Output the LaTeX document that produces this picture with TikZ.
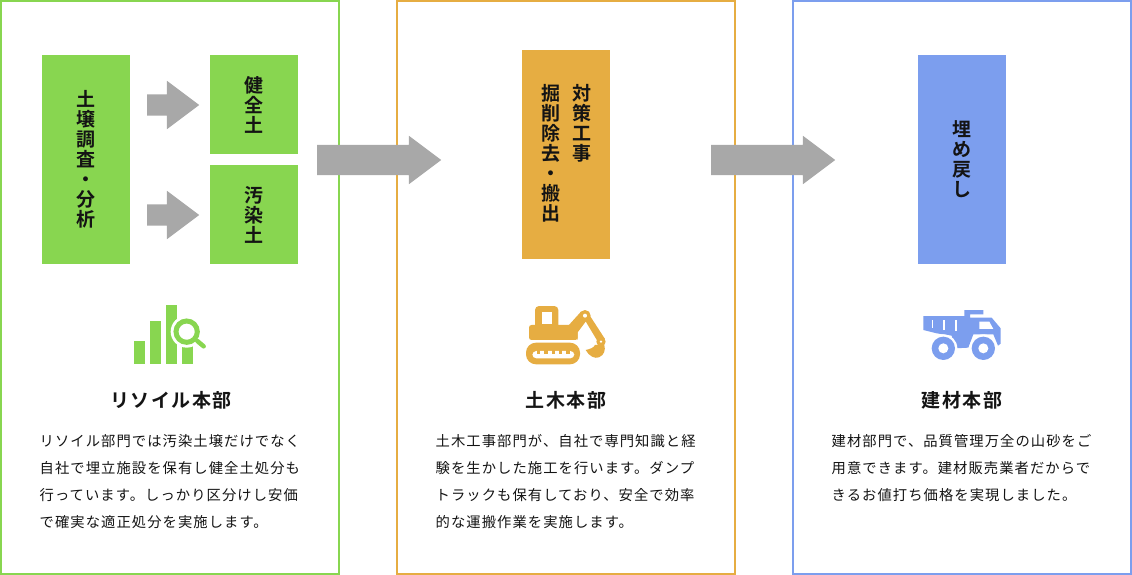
\documentclass[tikz,border=0pt]{standalone}
\usepackage{fontspec}
\usetikzlibrary{shapes.arrows}
\newfontfamily\bodyjp[LetterSpace=7.5]{Noto Sans CJK JP}
\newfontfamily\titlejp[LetterSpace=7.5]{Noto Sans CJK JP Bold}
\newfontfamily\stackjp{Noto Sans CJK JP Bold}
\definecolor{cgreen}{HTML}{88D650}
\definecolor{corange}{HTML}{E6AD42}
\definecolor{cblue}{HTML}{7C9EEE}
\definecolor{cgrey}{HTML}{A8A8A8}
\definecolor{ctext}{HTML}{141414}
\tikzset{
  panel/.style={draw=#1,line width=2pt,fill=white,inner sep=0pt,minimum width=338pt,minimum height=573pt},
  stacktext/.style={align=center,text=ctext,font={\fontsize{19}{20}\stackjp\selectfont}},
  block/.style={fill=#1,inner sep=0pt,minimum width=88pt,stacktext},
  bigarrow/.style={single arrow,fill=cgrey,inner xsep=0pt,inner ysep=15pt,minimum width=48pt,minimum height=124pt,
     single arrow head extend=9pt,single arrow tip angle=73.7,anchor=tail},
  smallarrow/.style={single arrow,fill=cgrey,inner xsep=0pt,inner ysep=10.5pt,minimum width=48pt,minimum height=52pt,
     single arrow head extend=13.5pt,single arrow tip angle=73.7,anchor=tail},
  title/.style={text=ctext,inner sep=0pt,font={\fontsize{19}{20}\titlejp\selectfont}},
  bodyline/.style={anchor=west,text=ctext,inner sep=0pt,font={\fontsize{14.3}{16}\bodyjp\selectfont}},
}
\begin{document}
\begin{tikzpicture}[x=1pt,y=-1pt]
\useasboundingbox (0,0) rectangle (1132,575);
% panels
\node[panel=cgreen] (p1) at (170,287.5) {};
\node[panel=corange] (p2) at (566,287.5) {};
\node[panel=cblue] (p3) at (962,287.5) {};
% blocks
\node[block=cgreen,minimum height=209pt] (b1) at (86,159.5) {土\\壌\\調\\査\\・\\分\\析};
\node[block=cgreen,minimum height=99pt] (b2) at (254,104.5) {健\\全\\土};
\node[block=cgreen,minimum height=99pt] (b3) at (254,214.5) {汚\\染\\土};
\node[block=corange,minimum height=209pt] (b4) at (566,154.5) {};
\node[anchor=north,inner sep=0pt,stacktext] (b4a) at (581.5,84) {対\\策\\工\\事};
\node[anchor=north,inner sep=0pt,stacktext] (b4b) at (550.5,84) {掘\\削\\除\\去\\・\\搬\\出};
\node[block=cblue,minimum height=209pt] (b5) at (962,159.5) {埋\\め\\戻\\し};
% arrows
\node[smallarrow] (a1) at (147,105) {};
\node[smallarrow] (a2) at (147,215) {};
\node[bigarrow] (a3) at (317,160) {};
\node[bigarrow] (a4) at (711,160) {};
% chart icon
\begin{scope}[shift={(120,295)},x=0.3333pt,y=-0.3333pt]
\fill[cgreen] (42,138) rectangle (76,207);
\fill[cgreen] (90,78) rectangle (124,207);
\fill[cgreen] (138,30) rectangle (172,207);
\fill[cgreen] (186,152) rectangle (220,207);
\fill[white] (200,110) circle (48);
\draw[cgreen,line width=5pt] (200,110) circle (32);
\draw[cgreen,line width=4.5pt,line cap=round] (232,138) -- (251,154);
\end{scope}
% excavator icon
\begin{scope}[shift={(515,295)},x=0.3333pt,y=-0.3333pt]
\fill[corange,rounded corners=4pt] (60,33) rectangle (130,105);
\fill[white] (82,52) rectangle (110,88);
\fill[corange,rounded corners=2.5pt] (42,90) rectangle (188,135);
\fill[corange] (160,92) -- (198,50) -- (218,72) -- (188,112) -- (188,135) -- cycle;
\fill[corange] (203,64) -- (222,58) -- (270,132) -- (252,146) -- cycle;
\fill[corange] (210,62) circle (17);
\fill[white] (210,62) circle (6);
\fill[corange] (258,140) circle (14);
\fill[white] (258,140) circle (4);
\fill[corange] (240,150) .. controls (236,158) and (226,162) .. (212,165) .. controls (222,184) and (240,192) .. (252,187) .. controls (268,180) and (272,165) .. (268,150) -- cycle;
\fill[corange,rounded corners=10pt] (33,143) rectangle (195,208);
\fill[white,rounded corners=4pt] (52,168) rectangle (178,190);
\foreach \xx in {66,88,110,132,154}{\fill[corange] (\xx,165) rectangle (\xx+10,178);}
\end{scope}
% truck icon
\begin{scope}[shift={(910,295)},x=0.3333pt,y=-0.3333pt]
\fill[cblue] (40,63) -- (163,63) -- (163,45) -- (220,45) -- (220,58) -- (180,58) -- (180,68) -- (245,68) -- (272,100) -- (272,146) -- (264,152) -- (250,118) -- (190,118) -- (175,158) -- (135,160) -- (125,122) -- (80,115) -- (40,105) -- cycle;
\fill[white] (65,75) rectangle (70,100);
\fill[white] (100,75) rectangle (105,104);
\fill[white] (135,75) rectangle (140,108);
\fill[white] (208,80) -- (238,80) -- (250,102) -- (208,102) -- cycle;
\fill[white] (100,160) circle (42);
\fill[white] (220,160) circle (42);
\fill[cblue] (100,160) circle (35);
\fill[cblue] (220,160) circle (35);
\fill[white] (100,160) circle (15);
\fill[white] (220,160) circle (15);
\end{scope}
% titles
\node[title] (t1) at (171,400.5) {リソイル本部};
\node[title] (t2) at (566,400.5) {土木本部};
\node[title] (t3) at (962,400.5) {建材本部};
% body texts
\node[bodyline] (l11) at (39.5,441) {リソイル部門では汚染土壌だけでなく};
\node[bodyline] (l12) at (39.5,468) {自社で埋立施設を保有し健全土処分も};
\node[bodyline] (l13) at (39.5,495) {行っています。しっかり区分けし安価};
\node[bodyline] (l14) at (39.5,522) {で確実な適正処分を実施します。};
\node[bodyline] (l21) at (435.5,441) {土木工事部門が、自社で専門知識と経};
\node[bodyline] (l22) at (435.5,468) {験を生かした施工を行います。ダンプ};
\node[bodyline] (l23) at (435.5,495) {トラックも保有しており、安全で効率};
\node[bodyline] (l24) at (435.5,522) {的な運搬作業を実施します。};
\node[bodyline] (l31) at (831.5,441) {建材部門で、品質管理万全の山砂をご};
\node[bodyline] (l32) at (831.5,468) {用意できます。建材販売業者だからで};
\node[bodyline] (l33) at (831.5,495) {きるお値打ち価格を実現しました。};
\end{tikzpicture}
\end{document}
